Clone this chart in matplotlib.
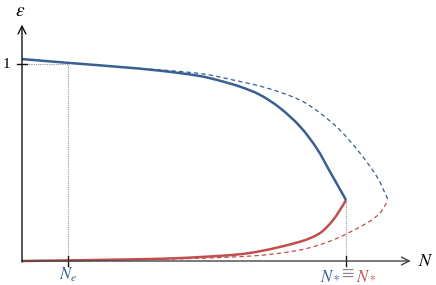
import matplotlib
matplotlib.use("Agg")
import matplotlib.pyplot as plt
from matplotlib.path import Path
from matplotlib.patches import PathPatch
import numpy as np

plt.rcParams['mathtext.fontset'] = 'stix'

BLUE = '#3a5f91'
RED = '#c0504d'

# Data (N in units of N_*, epsilon in units of 1)
N_e = 0.142
N_star = 1.0
eps_star = 0.31

blue_solid_N = [0, 0.148, 0.302, 0.426, 0.549, 0.611, 0.673, 0.735, 0.796, 0.858, 0.910, 0.951, 1.0]
blue_solid_eps = [1.025, 1.005, 0.985, 0.966, 0.939, 0.915, 0.885, 0.843, 0.777, 0.683, 0.571, 0.452, 0.31]

blue_dash_N = [0, 0.302, 0.549, 0.651, 0.756, 0.858, 0.920, 0.981, 1.043, 1.096, 1.130]
blue_dash_eps = [1.025, 0.985, 0.952, 0.919, 0.878, 0.817, 0.751, 0.665, 0.548, 0.426, 0.31]

red_solid_N = [0, 0.395, 0.549, 0.704, 0.858, 0.920, 0.960, 0.991, 1.0]
red_solid_eps = [0, 0.010, 0.020, 0.041, 0.098, 0.142, 0.208, 0.284, 0.31]

red_dash_N = [0, 0.395, 0.704, 0.858, 0.960, 1.065, 1.105, 1.130]
red_dash_eps = [0, 0.008, 0.025, 0.056, 0.107, 0.193, 0.244, 0.31]

XS, YS = 324.0, 197.0  # relative screen scale of the two axes


def smooth_path(xs, ys):
    """Chord-length Catmull-Rom spline through the points, as cubic Beziers."""
    p = np.column_stack([xs, ys]).astype(float)
    q = p * [XS, YS]
    n = len(p)
    h = np.hypot(*(np.diff(q, axis=0).T))
    m = np.zeros_like(q)
    m[0] = (q[1] - q[0]) / h[0]
    m[-1] = (q[-1] - q[-2]) / h[-1]
    for i in range(1, n - 1):
        m[i] = (q[i + 1] - q[i - 1]) / (h[i - 1] + h[i])
    verts = [q[0]]
    codes = [Path.MOVETO]
    for i in range(n - 1):
        c1 = q[i] + m[i] * h[i] / 3.0
        c2 = q[i + 1] - m[i + 1] * h[i] / 3.0
        verts += [c1, c2, q[i + 1]]
        codes += [Path.CURVE4] * 3
    verts = np.array(verts) / [XS, YS]
    return Path(verts, codes)


fig = plt.figure(figsize=(4.36, 2.85), dpi=100)
ax = fig.add_axes([0, 0, 1, 1])
ax.set_xlim(-22 / 324, 414 / 324)
ax.set_ylim(-24 / 197, 261 / 197)
ax.axis('off')

# reference dotted lines
ax.plot([0, N_e], [1, 1], color='#999999', lw=0.8, ls=(0, (1, 1)))
ax.plot([N_e, N_e], [0, 1], color='#999999', lw=0.8, ls=(0, (1, 1)))
ax.plot([N_star, N_star], [0, eps_star], color='#999999', lw=0.8, ls=(0, (1, 1)))

# axes with arrows
ax.annotate('', xy=(1.2, 0), xytext=(0, 0),
            arrowprops=dict(arrowstyle='->', color='#444444', lw=1.0,
                            shrinkA=0, shrinkB=0, mutation_scale=14))
ax.annotate('', xy=(0, 1.2), xytext=(0, -0.005),
            arrowprops=dict(arrowstyle='->', color='#111111', lw=1.0,
                            shrinkA=0, shrinkB=0, mutation_scale=14))

# curves
for xs, ys, col, lw, ls in [
    (blue_dash_N, blue_dash_eps, BLUE, 0.9, (0, (3.5, 2.5))),
    (red_dash_N, red_dash_eps, RED, 0.9, (0, (3.5, 2.5))),
    (red_solid_N, red_solid_eps, RED, 1.8, '-'),
    (blue_solid_N, blue_solid_eps, BLUE, 1.8, '-'),
]:
    ax.add_patch(PathPatch(smooth_path(xs, ys), facecolor='none',
                           edgecolor=col, lw=lw, ls=ls, capstyle='butt'))

# ticks
ax.plot([-0.014, 0.014], [1, 1], color='#111111', lw=1.0)
for xv in (N_e, N_star):
    ax.plot([xv, xv], [-0.025, 0.025], color='#111111', lw=1.0)

# labels
ax.text(-0.006, 1.27, r'$\epsilon$', fontsize=14, ha='center', va='center')
ax.text(1.245, 0.0, r'$N$', fontsize=13, ha='center', va='center')
ax.text(-0.035, 1.0, '1', fontsize=11, ha='right', va='center', family='Liberation Serif')
lab_y = -0.07
ax.text(N_e, lab_y, r'$N_e$', fontsize=12, ha='center', va='center', color=BLUE)
ax.text(N_star - 0.018, lab_y, r'$N_*$', fontsize=12, ha='right', va='center', color=BLUE)
ax.text(N_star + 0.004, lab_y + 0.01, r'$\equiv$', fontsize=13, ha='center', va='center', color='#888888')
ax.text(N_star + 0.030, lab_y, r'$N_*$', fontsize=12, ha='left', va='center', color=RED)

fig.savefig('out.png', dpi=100)
